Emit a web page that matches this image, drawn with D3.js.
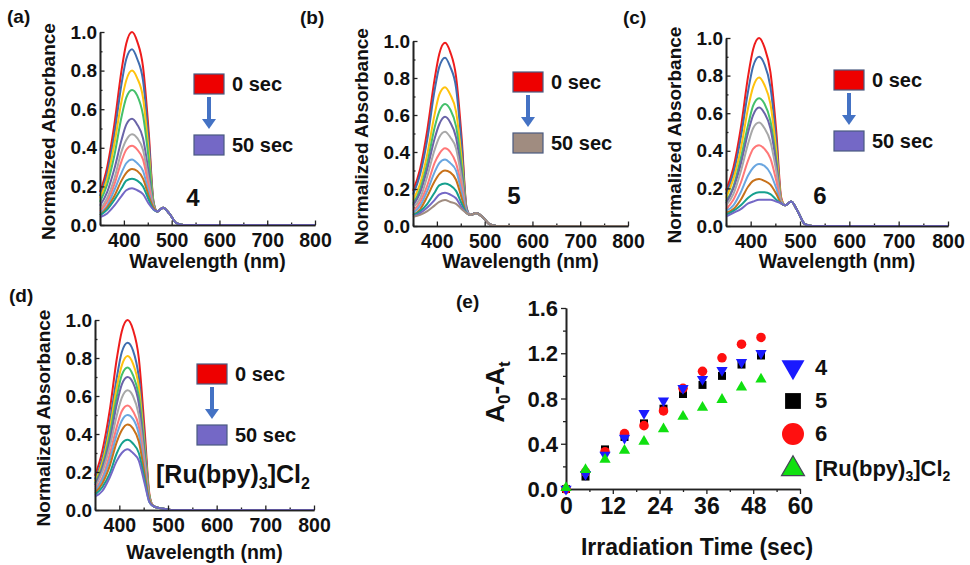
<!DOCTYPE html>
<html>
<head>
<meta charset="utf-8">
<script src="https://cdn.jsdelivr.net/npm/d3@7"></script>
<style>
  body { margin: 0; background: #fff; }
  text { font-family: "Liberation Sans", Arial, sans-serif; font-weight: bold; fill: #111; }
</style>
</head>
<body>
<script>
// longitudes de onda (nm): banda Soret + cola
var WL_SORET = [350, 365, 380, 395, 405, 417, 428, 440, 452, 462];
var WL_TAIL = [470, 482, 495, 510, 525, 600, 800];
var WL_TICKS = [400, 500, 600, 700, 800];
var ABS_TICKS = [0, 0.2, 0.4, 0.6, 0.8, 1.0];

// (a) compuesto 4, de 0 a 50 s
var SORET_4 = [
  [0.17, 0.30, 0.52, 0.80, 0.94, 1.00, 0.95, 0.82, 0.48, 0.12],
  [0.15, 0.27, 0.47, 0.73, 0.86, 0.91, 0.86, 0.75, 0.44, 0.12],
  [0.14, 0.24, 0.42, 0.64, 0.75, 0.80, 0.76, 0.66, 0.38, 0.11],
  [0.12, 0.21, 0.36, 0.56, 0.66, 0.70, 0.67, 0.57, 0.34, 0.11],
  [0.10, 0.17, 0.29, 0.44, 0.52, 0.55, 0.52, 0.45, 0.27, 0.10],
  [0.08, 0.14, 0.24, 0.38, 0.44, 0.47, 0.45, 0.39, 0.23, 0.10],
  [0.07, 0.12, 0.21, 0.33, 0.39, 0.41, 0.39, 0.34, 0.20, 0.09],
  [0.06, 0.10, 0.18, 0.27, 0.32, 0.34, 0.32, 0.28, 0.17, 0.09],
  [0.05, 0.09, 0.15, 0.23, 0.27, 0.29, 0.28, 0.24, 0.15, 0.09],
  [0.05, 0.08, 0.13, 0.19, 0.23, 0.24, 0.23, 0.20, 0.13, 0.08],
  [0.04, 0.06, 0.10, 0.15, 0.18, 0.19, 0.18, 0.16, 0.11, 0.08]
];
var TAIL_4 = [0.07, 0.09, 0.06, 0.01, 0.0, 0.0, 0.0];

// (b) compuesto 5
var SORET_5 = [
  [0.19, 0.31, 0.52, 0.79, 0.93, 0.99, 0.94, 0.81, 0.47, 0.10],
  [0.17, 0.28, 0.47, 0.73, 0.86, 0.91, 0.86, 0.75, 0.43, 0.10],
  [0.14, 0.23, 0.39, 0.60, 0.71, 0.75, 0.71, 0.62, 0.36, 0.09],
  [0.12, 0.20, 0.34, 0.53, 0.62, 0.66, 0.63, 0.54, 0.32, 0.09],
  [0.11, 0.18, 0.31, 0.47, 0.55, 0.59, 0.56, 0.48, 0.28, 0.09],
  [0.10, 0.15, 0.27, 0.41, 0.48, 0.51, 0.48, 0.42, 0.25, 0.08],
  [0.08, 0.13, 0.22, 0.34, 0.39, 0.42, 0.40, 0.34, 0.21, 0.08],
  [0.07, 0.11, 0.19, 0.29, 0.34, 0.36, 0.34, 0.30, 0.18, 0.08],
  [0.06, 0.09, 0.16, 0.24, 0.28, 0.30, 0.29, 0.25, 0.15, 0.07],
  [0.06, 0.08, 0.12, 0.18, 0.22, 0.23, 0.22, 0.19, 0.12, 0.07],
  [0.05, 0.07, 0.10, 0.14, 0.17, 0.18, 0.17, 0.15, 0.10, 0.07],
  [0.05, 0.06, 0.08, 0.11, 0.13, 0.14, 0.13, 0.12, 0.09, 0.07]
];
var TAIL_5 = [0.06, 0.07, 0.05, 0.01, 0.0, 0.0, 0.0];

// (c) compuesto 6
var SORET_6 = [
  [0.19, 0.31, 0.52, 0.80, 0.94, 1.00, 0.95, 0.82, 0.50, 0.15],
  [0.17, 0.28, 0.47, 0.72, 0.85, 0.90, 0.86, 0.74, 0.45, 0.14],
  [0.15, 0.25, 0.41, 0.63, 0.74, 0.79, 0.75, 0.65, 0.40, 0.14],
  [0.13, 0.21, 0.36, 0.54, 0.64, 0.68, 0.65, 0.56, 0.35, 0.13],
  [0.12, 0.20, 0.33, 0.50, 0.59, 0.63, 0.60, 0.52, 0.33, 0.13],
  [0.11, 0.17, 0.29, 0.44, 0.52, 0.55, 0.52, 0.45, 0.29, 0.13],
  [0.09, 0.14, 0.23, 0.35, 0.41, 0.43, 0.41, 0.36, 0.24, 0.12],
  [0.08, 0.11, 0.18, 0.27, 0.31, 0.33, 0.32, 0.28, 0.20, 0.12],
  [0.07, 0.09, 0.14, 0.21, 0.24, 0.25, 0.24, 0.22, 0.17, 0.12],
  [0.06, 0.08, 0.11, 0.15, 0.17, 0.18, 0.18, 0.17, 0.14, 0.12],
  [0.05, 0.07, 0.09, 0.12, 0.13, 0.14, 0.14, 0.14, 0.13, 0.12]
];
var TAIL_6 = [0.11, 0.13, 0.08, 0.01, 0.0, 0.0, 0.0];

// (d) [Ru(bpy)3]Cl2
var SORET_RU = [
  [0.18, 0.31, 0.52, 0.80, 0.94, 1.00, 0.95, 0.80, 0.42, 0.08],
  [0.16, 0.27, 0.46, 0.70, 0.83, 0.88, 0.84, 0.70, 0.37, 0.07],
  [0.15, 0.25, 0.42, 0.65, 0.76, 0.81, 0.77, 0.65, 0.34, 0.07],
  [0.14, 0.23, 0.39, 0.60, 0.71, 0.75, 0.71, 0.60, 0.32, 0.07],
  [0.13, 0.22, 0.36, 0.56, 0.66, 0.70, 0.67, 0.56, 0.29, 0.06],
  [0.12, 0.20, 0.33, 0.50, 0.59, 0.63, 0.60, 0.50, 0.26, 0.06],
  [0.11, 0.17, 0.29, 0.44, 0.52, 0.55, 0.52, 0.44, 0.23, 0.05],
  [0.10, 0.16, 0.26, 0.40, 0.47, 0.50, 0.48, 0.40, 0.21, 0.05],
  [0.09, 0.14, 0.23, 0.36, 0.42, 0.45, 0.43, 0.36, 0.19, 0.05],
  [0.08, 0.12, 0.19, 0.30, 0.35, 0.37, 0.35, 0.30, 0.16, 0.04],
  [0.07, 0.10, 0.17, 0.26, 0.30, 0.32, 0.30, 0.26, 0.14, 0.04]
];
var TAIL_RU = [0.02, 0.01, 0.005, 0.0, 0.0, 0.0, 0.0];

var COLORES = ["#ee1c1c", "#3f6db0", "#ffc20e", "#45c06b", "#6a64a8", "#a8a8a8", "#ff7878", "#6aa6e0", "#c8711a", "#16a08e", "#7468c6"];
var COLORES_5 = ["#ee1c1c", "#3f6db0", "#ffc20e", "#45c06b", "#6a64a8", "#a8a8a8", "#ff7878", "#6aa6e0", "#c8711a", "#16a08e", "#7468c6", "#a08c80"];

// (e) A0-At frente al tiempo
var TIEMPO = [0, 5, 10, 15, 20, 25, 30, 35, 40, 45, 50];
var DA_4 = [0.00, 0.13, 0.30, 0.45, 0.67, 0.78, 0.89, 0.97, 1.05, 1.12, 1.20];
var DA_5 = [0.00, 0.11, 0.35, 0.46, 0.58, 0.71, 0.84, 0.92, 1.00, 1.10, 1.18];
var DA_6 = [0.00, 0.15, 0.33, 0.49, 0.56, 0.69, 0.89, 1.04, 1.16, 1.28, 1.34];
var DA_RU = [0.01, 0.17, 0.26, 0.34, 0.42, 0.53, 0.64, 0.72, 0.79, 0.90, 0.97];
var TIME_TICKS = [0, 12, 24, 36, 48, 60];
var DA_TICKS = [0, 0.4, 0.8, 1.2, 1.6];

var svg = d3.select("body").append("svg").attr("width", 970).attr("height", 565);

function styleAxis(g) {
  g.selectAll("path.domain").attr("stroke", "#222").attr("stroke-width", 1.6);
  g.selectAll(".tick line").attr("stroke", "#222").attr("stroke-width", 1.3);
  g.selectAll("text").attr("fill", "#111").style("font-family", "'Liberation Sans', Arial, sans-serif").style("font-weight", "bold");
}

function espectros(p) {
  var x = d3.scaleLinear().domain([350, 800]).range([p.left, p.right]);
  var y = d3.scaleLinear().domain([0, 1.0]).range([p.bottom, p.top]);
  var wl = WL_SORET.concat(WL_TAIL);
  var line = d3.line().x(function (d) { return x(d[0]); }).y(function (d) { return y(d[1]); }).curve(d3.curveMonotoneX);

  // ejes secundarios (minor)
  var gxm = svg.append("g").attr("transform", "translate(0," + p.bottom + ")")
    .call(d3.axisBottom(x).tickValues([350, 450, 550, 650, 750]).tickSize(-2.5).tickSizeOuter(0).tickFormat(""));
  var gym = svg.append("g").attr("transform", "translate(" + p.left + ",0)")
    .call(d3.axisLeft(y).tickValues([0.1, 0.3, 0.5, 0.7, 0.9]).tickSize(-2.5).tickSizeOuter(0).tickFormat(""));
  styleAxis(gxm); styleAxis(gym);

  var series = p.soret.map(function (s) {
    return wl.map(function (w, i) { return [w, s.concat(p.tail)[i]]; });
  });
  svg.append("g").selectAll("path").data(series).enter().append("path")
    .attr("d", line).attr("fill", "none").attr("stroke-width", 2)
    .attr("stroke", function (d, i) { return p.colors[i]; });

  var gx = svg.append("g").attr("transform", "translate(0," + p.bottom + ")")
    .call(d3.axisBottom(x).tickValues(WL_TICKS).tickSize(-4.5).tickSizeOuter(0).tickPadding(8));
  var gy = svg.append("g").attr("transform", "translate(" + p.left + ",0)")
    .call(d3.axisLeft(y).tickValues(ABS_TICKS).tickSize(-4.5).tickSizeOuter(0).tickPadding(3).tickFormat(d3.format(".1f")));
  styleAxis(gx); styleAxis(gy);
  gx.selectAll("text").style("font-size", "19.5px");
  gy.selectAll("text").style("font-size", "19px");

  svg.append("text").attr("transform", "translate(" + (p.left - 45) + "," + ((p.top + p.bottom) / 2 + 3) + ") rotate(-90)")
    .attr("text-anchor", "middle").style("font-size", "19px").text("Normalized Absorbance");
  svg.append("text").attr("x", (p.left + p.right) / 2).attr("y", p.titleY)
    .attr("text-anchor", "middle").style("font-size", "19.5px").text("Wavelength (nm)");
  svg.append("text").attr("x", p.tagX).attr("y", p.tagY).style("font-size", "19px").text(p.tag);

  // leyenda 0 sec -> 50 sec
  var lg = svg.append("g").attr("transform", "translate(" + p.lgX + "," + p.lgY + ")");
  lg.append("rect").attr("width", 30).attr("height", 20).attr("fill", "#ee0000").attr("stroke", "#4a5a80").attr("stroke-width", 1.2);
  lg.append("rect").attr("y", 61).attr("width", 30).attr("height", 20).attr("fill", p.colors[p.colors.length - 1]).attr("stroke", "#4a5a80").attr("stroke-width", 1.2);
  lg.append("line").attr("x1", 15).attr("x2", 15).attr("y1", 23).attr("y2", 46).attr("stroke", "#4472c4").attr("stroke-width", 4);
  lg.append("path").attr("d", "M8,45 L22,45 L15,55 Z").attr("fill", "#4472c4");
  lg.append("text").attr("x", 38).attr("y", 17).style("font-size", "20px").text("0 sec");
  lg.append("text").attr("x", 38).attr("y", 78).style("font-size", "20px").text("50 sec");
}

espectros({ left: 100, right: 315, top: 32, bottom: 225, soret: SORET_4, tail: TAIL_4, colors: COLORES,
  titleY: 268, tag: "(a)", tagX: 7, tagY: 23, lgX: 194, lgY: 74 });
espectros({ left: 413, right: 628, top: 41, bottom: 226, soret: SORET_5, tail: TAIL_5, colors: COLORES_5,
  titleY: 268, tag: "(b)", tagX: 300, tagY: 24, lgX: 513, lgY: 72 });
espectros({ left: 726, right: 948, top: 38, bottom: 226, soret: SORET_6, tail: TAIL_6, colors: COLORES,
  titleY: 268, tag: "(c)", tagX: 623, tagY: 24, lgX: 834, lgY: 70 });
espectros({ left: 95, right: 314, top: 320, bottom: 510, soret: SORET_RU, tail: TAIL_RU, colors: COLORES,
  titleY: 559, tag: "(d)", tagX: 9, tagY: 302, lgX: 197, lgY: 364 });

svg.append("text").attr("x", 193).attr("y", 206).attr("text-anchor", "middle").style("font-size", "24px").text("4");
svg.append("text").attr("x", 514).attr("y", 204).attr("text-anchor", "middle").style("font-size", "24px").text("5");
svg.append("text").attr("x", 820).attr("y", 204).attr("text-anchor", "middle").style("font-size", "24px").text("6");
var ru = svg.append("text").attr("x", 156).attr("y", 483).style("font-size", "25px");
ru.append("tspan").text("[Ru(bpy)");
ru.append("tspan").attr("dy", 6).style("font-size", "16px").text("3");
ru.append("tspan").attr("dy", -6).text("]Cl");
ru.append("tspan").attr("dy", 6).style("font-size", "16px").text("2");

// (e)
var xe = d3.scaleLinear().domain([0, 60]).range([566, 800]);
var ye = d3.scaleLinear().domain([0, 1.6]).range([489, 308]);

var gexm = svg.append("g").attr("transform", "translate(0,489)")
  .call(d3.axisBottom(xe).tickValues([6, 18, 30, 42, 54]).tickSize(3).tickSizeOuter(0).tickFormat(""));
var geym = svg.append("g").attr("transform", "translate(566,0)")
  .call(d3.axisLeft(ye).tickValues([0.2, 0.6, 1.0, 1.4]).tickSize(3).tickSizeOuter(0).tickFormat(""));
styleAxis(gexm); styleAxis(geym);
var gex = svg.append("g").attr("transform", "translate(0,489)")
  .call(d3.axisBottom(xe).tickValues(TIME_TICKS).tickSize(5).tickSizeOuter(0).tickPadding(4));
var gey = svg.append("g").attr("transform", "translate(566,0)")
  .call(d3.axisLeft(ye).tickValues(DA_TICKS).tickSize(5).tickSizeOuter(0).tickPadding(3).tickFormat(d3.format(".1f")));
styleAxis(gex); styleAxis(gey);
gex.selectAll("text").style("font-size", "23px");
gey.selectAll("text").style("font-size", "22px").attr("dy", "0.35em");

var SERIES = [
  { name: "5", data: DA_5, shape: d3.symbolSquare, size: 64, rot: 0, fill: "#000", stroke: "none", lsize: 250 },
  { name: "6", data: DA_6, shape: d3.symbolCircle, size: 72, rot: 0, fill: "#ff1010", stroke: "none", lsize: 380 },
  { name: "4", data: DA_4, shape: d3.symbolTriangle, size: 55, rot: 180, fill: "#1a1aff", stroke: "none", lsize: 230 },
  { name: "[Ru(bpy)3]Cl2", data: DA_RU, shape: d3.symbolTriangle, size: 55, rot: 0, fill: "#10e010", stroke: "none", lsize: 230 }
];

SERIES.forEach(function (s) {
  svg.append("g").selectAll("path").data(s.data).enter().append("path")
    .attr("d", d3.symbol().type(s.shape).size(s.size))
    .attr("transform", function (d, i) { return "translate(" + xe(TIEMPO[i]) + "," + ye(d) + ") rotate(" + s.rot + ")"; })
    .attr("fill", s.fill).attr("stroke", s.stroke);
});

var LEG_E = [
  { s: SERIES[2], y: 367 },
  { s: SERIES[0], y: 401 },
  { s: SERIES[1], y: 434 },
  { s: SERIES[3], y: 469 }
];
LEG_E.forEach(function (l) {
  svg.append("path").attr("d", d3.symbol().type(l.s.shape).size(l.s.lsize)())
    .attr("transform", "translate(793," + l.y + ") rotate(" + l.s.rot + ")")
    .attr("fill", l.s.fill).attr("stroke", l.s.name.length > 1 ? "#445" : "none").attr("stroke-width", 1.2);
});
svg.append("text").attr("x", 815).attr("y", 375).style("font-size", "22px").text("4");
svg.append("text").attr("x", 815).attr("y", 408).style("font-size", "22px").text("5");
svg.append("text").attr("x", 815).attr("y", 441).style("font-size", "22px").text("6");
var rue = svg.append("text").attr("x", 815).attr("y", 476).style("font-size", "22px");
rue.append("tspan").text("[Ru(bpy)");
rue.append("tspan").attr("dy", 5).style("font-size", "14px").text("3");
rue.append("tspan").attr("dy", -5).text("]Cl");
rue.append("tspan").attr("dy", 5).style("font-size", "14px").text("2");

svg.append("text").attr("x", 456).attr("y", 308).style("font-size", "19px").text("(e)");
var ya = svg.append("text").attr("transform", "translate(504,392) rotate(-90)").attr("text-anchor", "middle").style("font-size", "26px");
ya.append("tspan").text("A");
ya.append("tspan").attr("dy", 6).style("font-size", "17px").text("0");
ya.append("tspan").attr("dy", -6).text("-A");
ya.append("tspan").attr("dy", 6).style("font-size", "17px").text("t");
svg.append("text").attr("x", 697).attr("y", 555).attr("text-anchor", "middle").style("font-size", "23px").text("Irradiation Time (sec)");
</script>
</body>
</html>
